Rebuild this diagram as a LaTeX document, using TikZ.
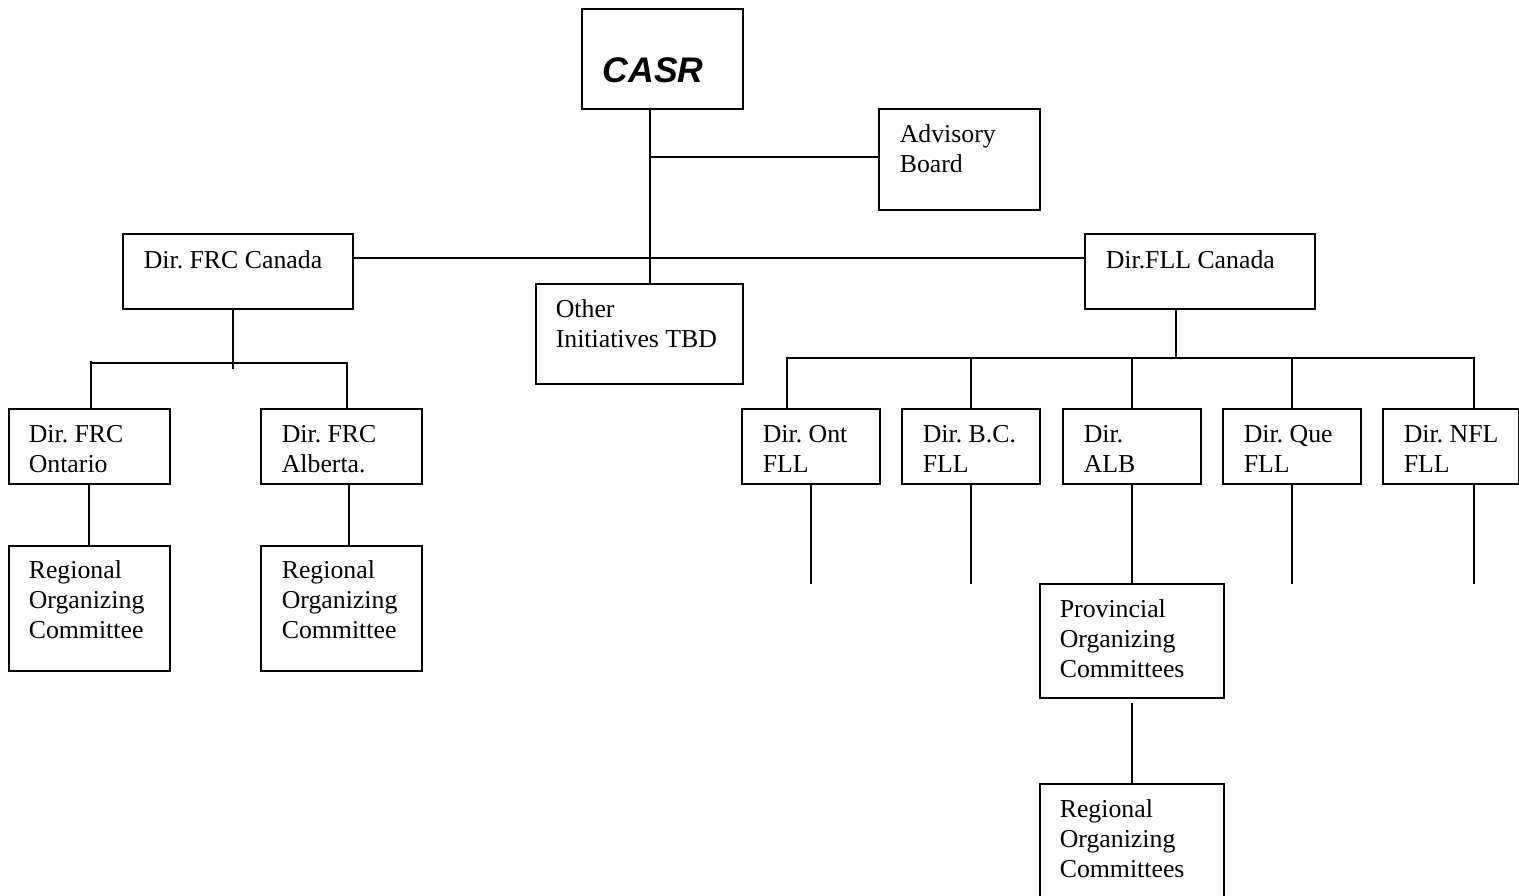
\documentclass[tikz,border=0pt]{standalone}
\usepackage{fontspec}
\setmainfont{Liberation Serif}
\newfontfamily\casrfont{Liberation Sans}
\usetikzlibrary{calc}
\frenchspacing

\tikzset{
  orgbox/.style 2 args={draw, line width=0.8pt, anchor=north west, inner sep=0pt,
    minimum width=#1*0.5pt, minimum height=#2*0.5pt},
  tag/.style={anchor=base west, inner sep=0pt, text width=110pt, align=flush left,
    font=\fontsize{12.9pt}{15pt}\selectfont},
}

\begin{document}
\begin{tikzpicture}[x=0.5pt, y=-0.5pt, line width=0.8pt]
	\useasboundingbox (0,0) rectangle (1519,895);

	% top
	\node (casr)  at (581,8)    [orgbox={161}{100}] {};
	\node (adv)   at (878,108)  [orgbox={161}{101}] {};
	\node (other) at (535,283)  [orgbox={207}{100}] {};
	\node (frc)   at (122,233)  [orgbox={230}{75}]  {};
	\node (fll)   at (1084,233) [orgbox={230}{75}]  {};

	\node (casr-t)  at ([shift={(21,74)}]casr.north west) [anchor=base west, inner sep=0pt,
		font=\fontsize{17.8pt}{20pt}\casrfont\bfseries\itshape] {CASR};
	\node (adv-t)   at ([shift={(21,34)}]adv.north west)   [tag] {Advisory\\Board};
	\node (other-t) at ([shift={(20,34)}]other.north west) [tag] {Other\\Initiatives TBD};
	\node (frc-t)   at ([shift={(21,35)}]frc.north west)   [tag] {Dir. FRC Canada};
	\node (fll-t)   at ([shift={(21,35)}]fll.north west)   [tag] {Dir.FLL Canada};

	% FRC side
	\node (frcont) at (8,408)   [orgbox={161}{75}]  {};
	\node (frcalb) at (260,408) [orgbox={161}{75}]  {};
	\node (regont) at (8,545)   [orgbox={161}{125}] {};
	\node (regalb) at (260,545) [orgbox={161}{125}] {};

	\node (frcont-t) at ([shift={(20,34)}]frcont.north west) [tag] {Dir. FRC\\Ontario};
	\node (frcalb-t) at ([shift={(21,34)}]frcalb.north west) [tag] {Dir. FRC\\Alberta.};
	\node (regont-t) at ([shift={(20,33)}]regont.north west) [tag] {Regional\\Organizing\\Committee};
	\node (regalb-t) at ([shift={(21,33)}]regalb.north west) [tag] {Regional\\Organizing\\Committee};

	% FLL side
	\node (dont) at (741,408)  [orgbox={138}{75}] {};
	\node (dbc)  at (901,408)  [orgbox={138}{75}] {};
	\node (dalb) at (1062,408) [orgbox={138}{75}] {};
	\node (dque) at (1222,408) [orgbox={138}{75}] {};
	\node (dnfl) at (1382,408) [orgbox={136}{75}] {};
	\node (prov) at (1039,583) [orgbox={184}{114}] {};
	\node (regp) at (1039,783) [orgbox={184}{116}] {};

	\node (dont-t) at ([shift={(21,34)}]dont.north west) [tag] {Dir. Ont\\FLL};
	\node (dbc-t)  at ([shift={(21,34)}]dbc.north west)  [tag] {Dir. B.C.\\FLL};
	\node (dalb-t) at ([shift={(21,34)}]dalb.north west) [tag] {Dir.\\ALB};
	\node (dque-t) at ([shift={(21,34)}]dque.north west) [tag] {Dir. Que\\FLL};
	\node (dnfl-t) at ([shift={(21,34)}]dnfl.north west) [tag] {Dir. NFL\\FLL};
	\node (prov-t) at ([shift={(20,34)}]prov.north west) [tag] {Provincial\\Organizing\\Committees};
	\node (regp-t) at ([shift={(20,34)}]regp.north west) [tag] {Regional\\Organizing\\Committees};

	% connectors
	\coordinate (spine)  at (650,157);
	\coordinate (hub)    at (650,258);
	\coordinate (frcbar) at (233,363);
	\coordinate (fllbar) at (1176,358);
	\coordinate (stub)   at (0,584);

	\draw (casr.south -| spine) -- (other.north -| spine);
	\draw (spine) -- (adv.west |- spine);
	\draw (frc.east |- hub) -- (fll.west |- hub);

	\draw (frc.south -| frcbar) -- ++(0,59);
	\draw (frcont.north -| 91,0) -- (91,361) |- (frcbar) -| (frcalb.north -| 347,0);
	\draw (frcont.south -| 89,0) -- (regont.north -| 89,0);
	\draw (frcalb.south -| 349,0) -- (regalb.north -| 349,0);

	\draw (fll.south -| fllbar) -- (fllbar);
	\draw (dont.north -| 787,0) |- (fllbar) -| (dnfl.north -| 1474,0);
	\foreach \n in {dbc,dalb,dque}
		\draw (\n.north) -- (\n.north |- fllbar);
	\foreach \n in {dont,dbc,dque}
		\draw (\n.south) -- (\n.south |- stub);
	\draw (dnfl.south -| 1474,0) -- (1474,584);
	\draw (dalb.south) -- (prov.north);
	\draw ([yshift=-2pt]prov.south) -- (regp.north);
\end{tikzpicture}
\end{document}
